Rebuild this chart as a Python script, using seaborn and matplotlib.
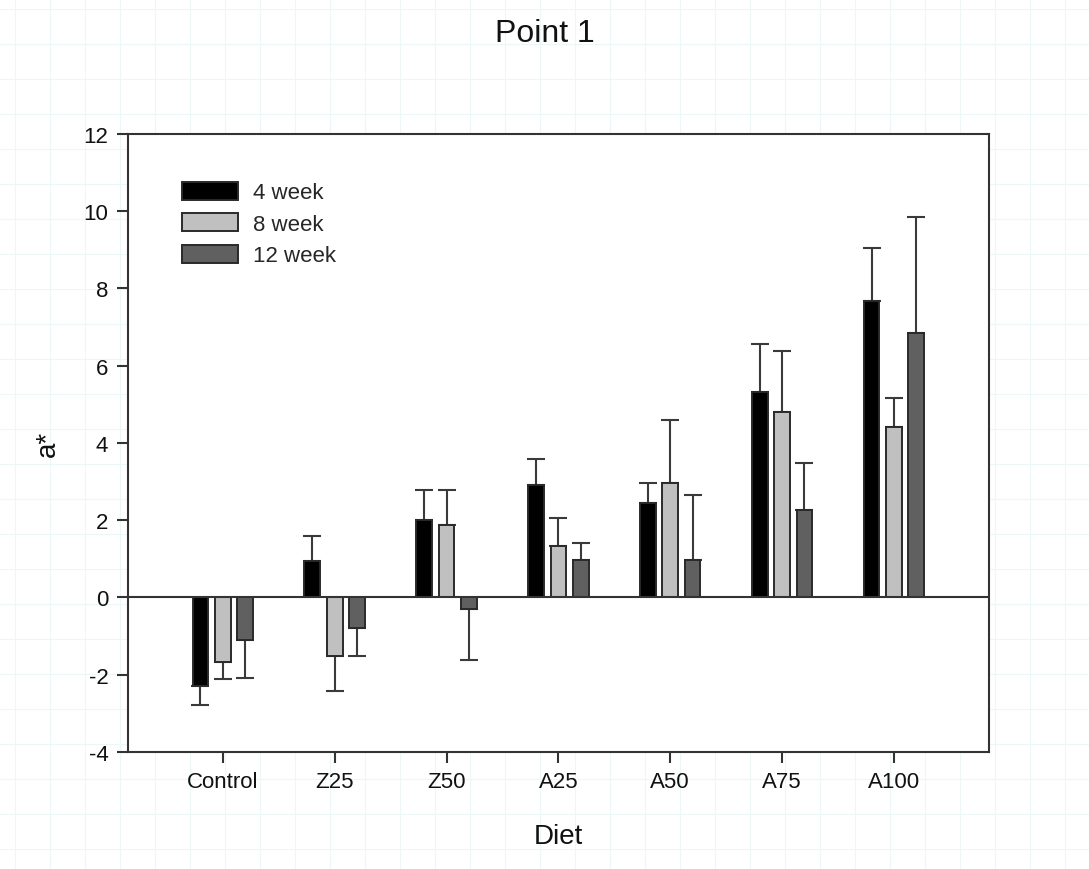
import numpy as np
import pandas as pd
import matplotlib
matplotlib.use("Agg")
import matplotlib.pyplot as plt
import seaborn as sns

diets = ["Control", "Z25", "Z50", "A25", "A50", "A75", "A100"]
weeks = ["4 week", "8 week", "12 week"]
mean_4 = [-2.30, 0.93, 2.00, 2.90, 2.43, 5.32, 7.67]
mean_8 = [-1.68, -1.52, 1.87, 1.33, 2.95, 4.80, 4.42]
mean_12 = [-1.10, -0.80, -0.31, 0.96, 0.97, 2.27, 6.85]
sd_4 = [0.50, 0.65, 0.77, 0.67, 0.52, 1.24, 1.37]
sd_8 = [0.44, 0.90, 0.90, 0.72, 1.65, 1.58, 0.75]
sd_12 = [1.00, 0.72, 1.32, 0.44, 1.69, 1.22, 2.99]
colors = ["#000000", "#c0c0c0", "#606060"]

means = [mean_4, mean_8, mean_12]
sds = [sd_4, sd_8, sd_12]
rows = []
for w, m, s in zip(weeks, means, sds):
    for d, mv, sv in zip(diets, m, s):
        rows.append({"Diet": d, "Week": w, "a": mv, "sd": sv})
df = pd.DataFrame(rows)

sns.set_theme(style="white")
plt.rcParams["font.family"] = ["Liberation Sans", "DejaVu Sans"]
plt.rcParams["axes.unicode_minus"] = False

fig = plt.figure(figsize=(10.89, 8.70), dpi=100)

# faint graph-paper background
bg = fig.add_axes([0, 0, 1, 1], zorder=-10)
bg.set_xlim(0, 1089)
bg.set_ylim(870, 0)
bg.set_xticks(np.arange(15, 1089, 35))
bg.set_yticks(np.arange(10, 870, 35))
bg.grid(True, color="#edf7f7", lw=0.8)
bg.tick_params(length=0, labelleft=False, labelbottom=False)
for s in bg.spines.values():
    s.set_visible(False)

ax = fig.add_axes([0.1173, 0.1348, 0.7909, 0.7100])
ax.set_facecolor("white")

sns.barplot(data=df, x="Diet", y="a", hue="Week", order=diets, hue_order=weeks,
            palette=colors, errorbar=None, width=0.6, gap=0.3,
            edgecolor="#2a2a2a", linewidth=1.4, ax=ax, zorder=3)

# one-sided error bars from bar positions
for cont, m, s in zip(ax.containers, means, sds):
    xs = [p.get_x() + p.get_width() / 2 for p in cont.patches]
    m = np.array(m)
    s = np.array(s)
    lower = np.where(m < 0, s, 0)
    upper = np.where(m >= 0, s, 0)
    ax.errorbar(xs, m, yerr=[lower, upper], fmt="none", ecolor="#3a3a3a",
                elinewidth=1.5, capsize=6.5, capthick=1.5, zorder=2)

ax.axhline(0, color="#333333", lw=1.5, zorder=4)
ax.set_ylim(-4, 12)
ax.set_xlim(-0.85, 6.85)
ax.set_yticks(np.arange(-4, 13, 2))
for s in ax.spines.values():
    s.set_color("#333333")
    s.set_linewidth(1.5)
ax.tick_params(axis="both", direction="out", length=8, width=1.5, color="#333333",
               labelsize=16, labelcolor="#111111", bottom=True, left=True, pad=6)
ax.set_xlabel("Diet", fontsize=20, labelpad=22, color="#111111")
ax.set_ylabel("a*", fontsize=20, labelpad=16, color="#111111")
fig.suptitle("Point 1", fontsize=23, y=0.978, x=0.5, color="#111111")

handles, labels = ax.get_legend_handles_labels()
leg = ax.legend(handles, labels, loc="upper left", bbox_to_anchor=(0.04, 0.955),
                frameon=False, fontsize=16, handlelength=2.5, handleheight=0.85,
                labelspacing=0.45, handletextpad=0.7)

fig.savefig("out.png", dpi=100)
